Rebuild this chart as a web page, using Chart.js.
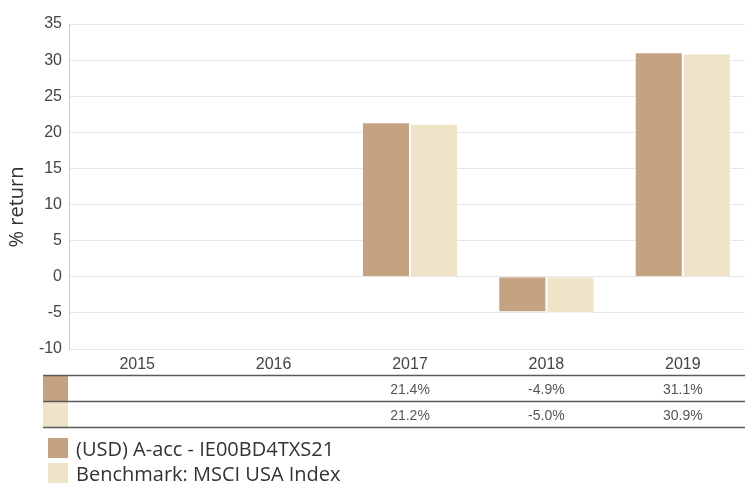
<!DOCTYPE html>
<html>
<head>
<meta charset="utf-8">
<script src="https://cdn.jsdelivr.net/npm/chart.js@4/dist/chart.umd.min.js"></script>
<style>
  html, body { margin: 0; padding: 0; background: #fff; overflow: hidden; }
  #wrap { position: relative; width: 751px; height: 484px; }
</style>
</head>
<body>
<div id="wrap"><canvas id="returnsChart"></canvas></div>
<script>
// yearly performance, % return
var years = ['2015', '2016', '2017', '2018', '2019'];
var fundReturns = [null, null, 21.4, -4.9, 31.1];
var benchReturns = [null, null, 21.2, -5.0, 30.9];
var fundLabel = '(USD) A-acc - IE00BD4TXS21';
var benchLabel = 'Benchmark: MSCI USA Index';
var fundColor = '#c4a282';
var benchColor = '#efe3c8';

var tickFont = 'Liberation Sans, Arial, sans-serif';
var textFont = 'Open Sans, Noto Sans, sans-serif';

// draws the value table, the legend and the axis title below/left of the plot
var tablePlugin = {
    id: 'returnTable',
    afterDraw: function (chart) {
        var ctx = chart.ctx;
        var x = chart.scales.x;
        var right = chart.width;
        var sets = chart.data.datasets;

        ctx.save();
        // y axis title
        ctx.fillStyle = '#333';
        ctx.font = '20px ' + textFont;
        ctx.textAlign = 'center';
        ctx.textBaseline = 'middle';
        ctx.translate(17, 207);
        ctx.rotate(-Math.PI / 2);
        ctx.fillText('% return', 0, 0);
        ctx.restore();

        ctx.save();
        var rowTop = [376, 402];
        var rowH = 26;
        sets.forEach(function (ds, r) {
            ctx.fillStyle = ds.backgroundColor;
            ctx.fillRect(43, rowTop[r], 25, rowH - 1);
            ctx.fillStyle = '#555';
            ctx.font = '14px ' + tickFont;
            ctx.textAlign = 'center';
            ctx.textBaseline = 'middle';
            ds.data.forEach(function (v, i) {
                if (v === null) return;
                ctx.fillText(v.toFixed(1) + '%', x.getPixelForValue(i), rowTop[r] + 14);
            });
        });
        ctx.strokeStyle = '#5a5a5a';
        ctx.lineWidth = 1.5;
        [375.5, 401.5, 427.5].forEach(function (y) {
            ctx.beginPath();
            ctx.moveTo(43, y);
            ctx.lineTo(right, y);
            ctx.stroke();
        });

        // legend
        var legTop = [438, 463];
        sets.forEach(function (ds, r) {
            ctx.fillStyle = ds.backgroundColor;
            ctx.fillRect(48, legTop[r], 20, 20);
            ctx.fillStyle = '#333';
            ctx.font = '20px ' + textFont;
            ctx.textAlign = 'left';
            ctx.textBaseline = 'middle';
            ctx.fillText(ds.label, 76, legTop[r] + 12);
        });
        ctx.restore();
    }
};

document.addEventListener('DOMContentLoaded', function () {
    var canvas = document.getElementById('returnsChart').getContext('2d');

    var chartData = {
        labels: years,
        datasets: [{
            label: fundLabel,
            data: fundReturns,
            backgroundColor: fundColor,
            borderColor: 'rgba(255,255,255,0.5)',
            borderWidth: 1
        }, {
            label: benchLabel,
            data: benchReturns,
            backgroundColor: benchColor,
            borderColor: 'rgba(255,255,255,0.5)',
            borderWidth: 1
        }]
    };

    new Chart(canvas, {
        type: 'bar',
        data: chartData,
        options: {
            responsive: true,
            maintainAspectRatio: false,
            animation: false,
            categoryPercentage: 0.705,
            barPercentage: 1,
            layout: { padding: { top: 24, left: 0, right: 0, bottom: 0 } },
            plugins: {
                legend: { display: false },
                tooltip: { enabled: false }
            },
            scales: {
                x: {
                    grid: { display: false, drawTicks: false },
                    border: { display: false },
                    ticks: {
                        color: '#444',
                        padding: 6,
                        font: { family: tickFont, size: 16 }
                    },
                    afterFit: function (scale) { scale.height = 135; }
                },
                y: {
                    min: -10,
                    max: 35,
                    grid: { color: '#e6e6e6', drawTicks: false },
                    border: { color: '#cccccc' },
                    ticks: {
                        stepSize: 5,
                        color: '#444',
                        padding: 7,
                        font: { family: tickFont, size: 16 }
                    },
                    afterFit: function (scale) { scale.width = 69; }
                }
            }
        },
        plugins: [tablePlugin]
    });
});
</script>
</body>
</html>
